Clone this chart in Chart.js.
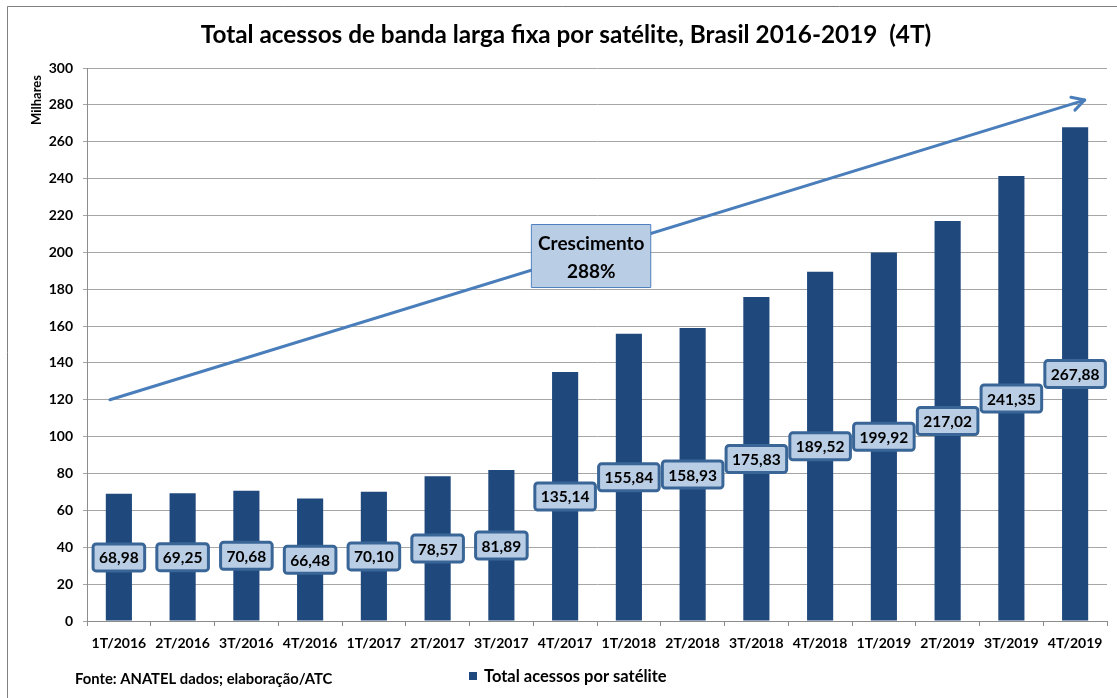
<!DOCTYPE html>
<html>
<head>
<meta charset="utf-8">
<script src="https://cdn.jsdelivr.net/npm/chart.js@4.4.1/dist/chart.umd.min.js"></script>
<style>
  html, body { margin: 0; padding: 0; background: #fff; }
  #wrap { width: 1117px; height: 698px; position: relative; }
</style>
</head>
<body>
<div id="wrap"><canvas id="satChart" width="1117" height="698"></canvas></div>
<script>
// Chart data
const quarters = ['1T/2016', '2T/2016', '3T/2016', '4T/2016', '1T/2017', '2T/2017', '3T/2017', '4T/2017',
                  '1T/2018', '2T/2018', '3T/2018', '4T/2018', '1T/2019', '2T/2019', '3T/2019', '4T/2019'];
const accesses = [68.98, 69.25, 70.68, 66.48, 70.10, 78.57, 81.89, 135.14,
                  155.84, 158.93, 175.83, 189.52, 199.92, 217.02, 241.35, 267.88];
const yTicks = [0, 20, 40, 60, 80, 100, 120, 140, 160, 180, 200, 220, 240, 260, 280, 300];

// Growth arrow and note, in data terms [category index, value]
const arrowFrom = [-0.14, 120];
const arrowTo = [15.15, 282.6];
const noteAt = [7.41, 198];
const noteLines = ['Crescimento', '288%'];

const titleText = 'Total acessos de banda larga fixa por satélite, Brasil 2016-2019  (4T)';
const sourceText = 'Fonte: ANATEL dados; elaboração/ATC';
const seriesName = 'Total acessos por satélite';

const FONT = 'Lato, "Open Sans", sans-serif';
const BAR_COLOR = '#1f497d';

function fmt(v) {
    return v.toFixed(2).replace('.', ',');
}

// Draws title, border, axis title, arrow, note box, value labels, legend and source
const decorations = {
    id: 'decorations',
    afterDatasetsDraw(chart) {
        const ctx = chart.ctx;
        const xs = chart.scales.x;
        const ys = chart.scales.y;
        ctx.save();

        // outer frame (only left and top visible)
        ctx.strokeStyle = '#7f7f7f';
        ctx.lineWidth = 1;
        ctx.beginPath();
        ctx.moveTo(7.5, 698);
        ctx.lineTo(7.5, 6.5);
        ctx.lineTo(1117, 6.5);
        ctx.stroke();

        // title
        ctx.fillStyle = '#000';
        ctx.font = 'bold 24.3px ' + FONT;
        ctx.textAlign = 'center';
        ctx.textBaseline = 'middle';
        ctx.fillText(titleText, 566, 35);

        // y axis title
        ctx.save();
        ctx.translate(37, 100);
        ctx.rotate(-Math.PI / 2);
        ctx.font = 'bold 13px ' + FONT;
        ctx.fillText('Milhares', 0, 0);
        ctx.restore();

        // growth arrow
        const x1 = xs.getPixelForValue(arrowFrom[0]), y1 = ys.getPixelForValue(arrowFrom[1]);
        const x2 = xs.getPixelForValue(arrowTo[0]), y2 = ys.getPixelForValue(arrowTo[1]);
        const ang = Math.atan2(y2 - y1, x2 - x1);
        ctx.strokeStyle = '#4a7ebb';
        ctx.lineWidth = 3;
        ctx.lineCap = 'round';
        ctx.lineJoin = 'round';
        ctx.beginPath();
        ctx.moveTo(x1, y1);
        ctx.lineTo(x2, y2);
        ctx.stroke();
        ctx.beginPath();
        ctx.moveTo(x2 - 14 * Math.cos(ang - 0.5), y2 - 14 * Math.sin(ang - 0.5));
        ctx.lineTo(x2, y2);
        ctx.lineTo(x2 - 14 * Math.cos(ang + 0.5), y2 - 14 * Math.sin(ang + 0.5));
        ctx.stroke();

        // note box
        const nx = xs.getPixelForValue(noteAt[0]), ny = ys.getPixelForValue(noteAt[1]);
        ctx.fillStyle = '#b9cde5';
        ctx.strokeStyle = '#4f81bd';
        ctx.lineWidth = 1;
        ctx.fillRect(nx - 59.5, ny - 31.5, 119, 63);
        ctx.strokeRect(nx - 59.5, ny - 31.5, 119, 63);
        ctx.fillStyle = '#000';
        ctx.font = 'bold 19px ' + FONT;
        ctx.fillText(noteLines[0], nx, ny - 12);
        ctx.fillText(noteLines[1], nx, ny + 16);

        // value labels centred in each bar
        ctx.font = 'bold 15.5px ' + FONT;
        chart.getDatasetMeta(0).data.forEach((bar, i) => {
            const v = accesses[i];
            const txt = fmt(v);
            const cy = ys.getPixelForValue(v / 2);
            const w = ctx.measureText(txt).width + 12;
            ctx.beginPath();
            ctx.roundRect(bar.x - w / 2, cy - 13.5, w, 27, 3);
            ctx.fillStyle = '#b9cde5';
            ctx.fill();
            ctx.lineWidth = 3;
            ctx.strokeStyle = '#3a6697';
            ctx.stroke();
            ctx.fillStyle = '#000';
            ctx.fillText(txt, bar.x, cy + 1);
        });

        // legend
        ctx.fillStyle = BAR_COLOR;
        ctx.fillRect(469, 672, 8, 8);
        ctx.fillStyle = '#000';
        ctx.textAlign = 'left';
        ctx.font = 'bold 16.5px ' + FONT;
        ctx.fillText(seriesName, 484, 677);

        // source
        ctx.font = 'bold 14.8px ' + FONT;
        ctx.fillText(sourceText, 75, 679);

        ctx.restore();
    }
};

function renderChart() {
    const ctx = document.getElementById('satChart').getContext('2d');
    new Chart(ctx, {
        type: 'bar',
        data: {
            labels: quarters,
            datasets: [{
                label: seriesName,
                data: accesses,
                backgroundColor: BAR_COLOR,
                barPercentage: 0.41,
                categoryPercentage: 1.0
            }]
        },
        options: {
            responsive: false,
            animation: false,
            layout: { padding: { top: 68, left: 0, right: 10, bottom: 0 } },
            plugins: {
                legend: { display: false },
                title: { display: false },
                tooltip: { enabled: false }
            },
            scales: {
                x: {
                    afterFit: s => { s.height = 77; },
                    grid: { drawOnChartArea: false, drawTicks: true, tickLength: 5, color: '#8c8c8c' },
                    border: { color: '#8c8c8c' },
                    ticks: { color: '#000', font: { family: FONT, size: 14, weight: 'bold' }, padding: 9, maxRotation: 0, autoSkip: false }
                },
                y: {
                    min: 0,
                    max: 300,
                    afterFit: s => { s.width = 87; },
                    afterBuildTicks: s => { s.ticks = yTicks.map(v => ({ value: v })); },
                    grid: { color: '#a6a6a6', tickLength: 4 },
                    border: { color: '#8c8c8c' },
                    ticks: { color: '#000', font: { family: FONT, size: 14, weight: 'bold' }, padding: 10 }
                }
            }
        },
        plugins: [decorations]
    });
}

renderChart();
</script>
</body>
</html>
